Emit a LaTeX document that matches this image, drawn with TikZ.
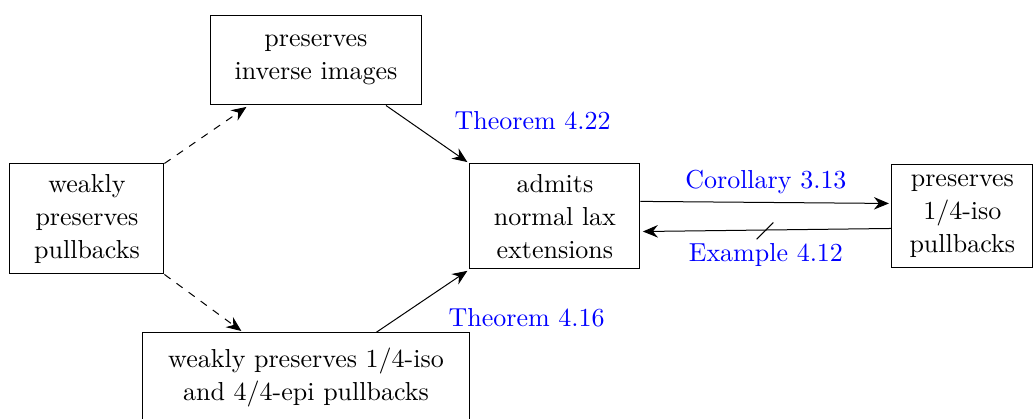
\documentclass[tikz,border=0pt]{standalone}
\usepackage{amsmath}
\usepackage{tikz}
\usetikzlibrary{arrows.meta,calc}

\begin{document}
\begin{tikzpicture}[>={Stealth[length=6pt,width=5pt,inset=2pt]},shorten >=1pt,
  prop node/.style={rectangle,draw,align=center,inner sep=2pt,font=\fontsize{10.4}{13.2}\selectfont},
  ref label/.style={text=blue,font=\fontsize{10.4}{12.5}\selectfont}]
  \useasboundingbox (0,0) rectangle (14.54,-5.89);

  \node[prop node,minimum width=2.98cm,minimum height=1.265cm] (inv) at (4.443,-0.844) {preserves\\inverse images};
  \node[prop node,minimum width=2.165cm,minimum height=1.547cm] (weak) at (1.223,-3.079) {weakly\\preserves\\pullbacks};
  \node[prop node,minimum width=2.39cm,minimum height=1.476cm] (lax) at (7.803,-3.044) {admits\\normal lax\\extensions};
  \node[prop node,minimum width=1.98cm,minimum height=1.46cm] (iso) at (13.532,-3.037) {preserves\\1/4-iso\\pullbacks};
  \node[prop node,minimum width=4.61cm,minimum height=1.265cm] (epi) at (4.303,-5.315) {weakly preserves 1/4-iso\\and 4/4-epi pullbacks};

\draw [->,dashed] (weak.north east) -- (inv.-146);
\draw [->,dashed] (weak.south east) -- (epi.144);

\draw [->] (inv.-33) -- node[ref label,midway,xshift=1.476cm,yshift=0.197cm] {Theorem 4.22} (lax.north west);
\draw [->] (epi.33) -- node[ref label,midway,xshift=1.462cm,yshift=-0.239cm] {Theorem 4.16} (lax.south west);

\draw [->] (lax.10) -- node[ref label,above] {Corollary 3.13} (iso.170);
\draw [->] (iso.190) -- node[ref label,below,yshift=-2pt] {Example 4.12} coordinate[midway] (noimp) (lax.-10);
\draw ($(noimp)+(-0.13,-0.13)$) -- ($(noimp)+(0.13,0.13)$);

\end{tikzpicture}
\end{document}
